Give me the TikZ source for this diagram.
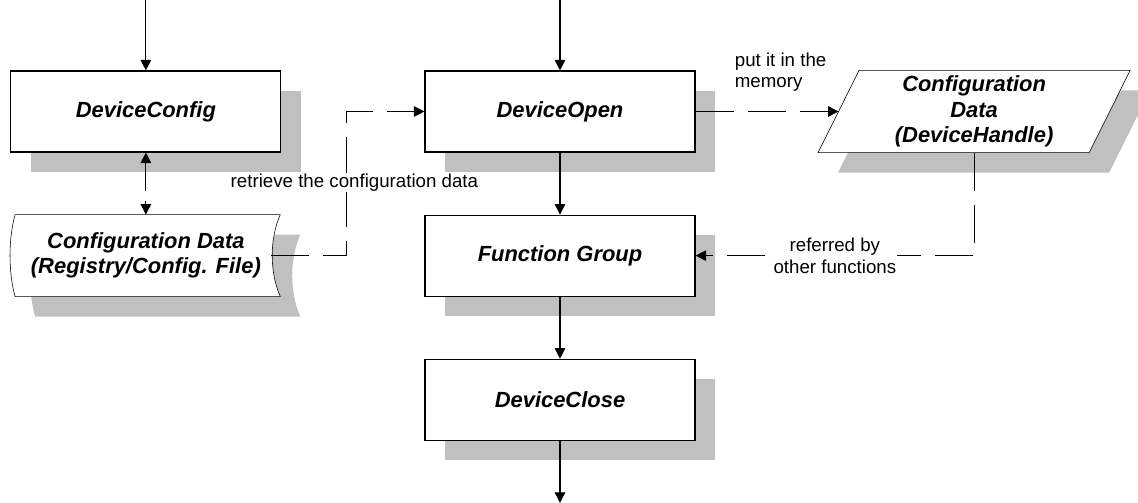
\documentclass[tikz,border=0pt]{standalone}
\usepackage{fontspec}
\setmainfont{Liberation Sans}
\usepackage{xcolor}
\usepackage{tikz}
\usetikzlibrary{shapes.geometric, arrows.meta, positioning, shadows, backgrounds, calc}
\definecolor{shadowgray}{RGB}{192,192,192}

\begin{document}
\begin{tikzpicture}[node distance=1.55cm and 3.575cm, >={Triangle[length=7.5pt,width=7.5pt]}, thick]
    \tikzset{
        block/.style={rectangle, draw=black, fill=white, minimum height=2.025cm, minimum width=6.75cm, align=center, font=\fontsize{15.6}{18}\selectfont\bfseries\itshape, drop shadow={shadow xshift=0.5cm, shadow yshift=-0.5cm, fill=shadowgray, opacity=1}},
        datablock/.style={rectangle, minimum height=2.025cm, minimum width=6.75cm, align=center, font=\fontsize{15.6}{18}\selectfont\bfseries\itshape},
        line/.style={draw, ->},
        dline/.style={draw, ->, dash pattern=on 0.95cm off 0.35cm},
        lbl/.style={font=\fontsize{13.3}{15.6}\selectfont, align=center, fill=white, inner sep=0.5pt}
    }

    \useasboundingbox (0,0) rectangle (28.45,-12.55);

    \node (DevOpen) [block] at (14,-2.7875) {DeviceOpen};
    \node (FuncGroup) [block, below=of DevOpen] {Function Group};
    \node (DevClose) [block, below=of FuncGroup] {DeviceClose};
    \node (DevConfig) [block, left=of DevOpen] {DeviceConfig};
    \node (CfgFile) [datablock, below=of DevConfig] {Configuration Data\\(Registry/Config. File)};
    \node (CfgHandle) [datablock, right=of DevOpen] {Configuration\\Data\\(DeviceHandle)};

    % data shapes behind their texts
    \begin{scope}[on background layer]
        \fill [shadowgray] ([shift={(0.62,-0.5)}]CfgFile.north west) -- ++(6.63,0) .. controls +(-0.27,-0.6) and +(-0.27,0.6) .. ++(0,-2.05) -- ++(-6.63,0) .. controls +(-0.17,0.6) and +(-0.17,-0.6) .. ++(0,2.05) -- cycle;
        \draw [fill=white] ([xshift=0.12cm]CfgFile.north west) -- ++(6.63,0) .. controls +(-0.27,-0.6) and +(-0.27,0.6) .. ++(0,-2.05) -- ++(-6.63,0) .. controls +(-0.17,0.6) and +(-0.17,-0.6) .. ++(0,2.05) -- cycle;
        \fill [shadowgray] ([shift={(1.0125,-0.5)}]CfgHandle.north west) -- ([shift={(1.0125,-0.5)}]CfgHandle.north east) -- ([shift={(-0.0125,-0.5)}]CfgHandle.south east) -- ([shift={(-0.0125,-0.5)}]CfgHandle.south west) -- cycle;
        \draw [fill=white] ([xshift=0.5125cm]CfgHandle.north west) -- ([xshift=0.5125cm]CfgHandle.north east) -- ([xshift=-0.5125cm]CfgHandle.south east) -- ([xshift=-0.5125cm]CfgHandle.south west) -- cycle;
    \end{scope}

    \coordinate (ConfigIn) at ([yshift=1.8cm]DevConfig.north);
    \coordinate (OpenIn) at ([yshift=1.8cm]DevOpen.north);
    \coordinate (CloseOut) at ([yshift=-1.55cm]DevClose.south);
    \coordinate (CfgPort) at ([xshift=-0.25cm]CfgFile.east);

    \path [line] (ConfigIn) -- (DevConfig);
    \path [line] (OpenIn) -- (DevOpen);
    \path [line] (DevOpen) -- (FuncGroup);
    \path [line] (FuncGroup) -- (DevClose);
    \path [line] (DevClose) -- (CloseOut);
    \path [dline, <->, dash pattern=on 0.7cm off 0.25cm] (DevConfig) -- (CfgFile);
    \path [dline] (CfgPort) -- ++(1.875,0) |- node[lbl, pos=0.254, xshift=0.2cm] {retrieve the configuration data} (DevOpen.west);
    \path [dline] (DevOpen) -- node[lbl, fill=none, align=left, anchor=south west, pos=0.266, yshift=0.46cm] {put it in the\\memory} (CfgHandle);
    \path [dline] (CfgHandle.south) |- node[lbl, pos=0.75] {referred by\\other functions} (FuncGroup.east);

\end{tikzpicture}
\end{document}
